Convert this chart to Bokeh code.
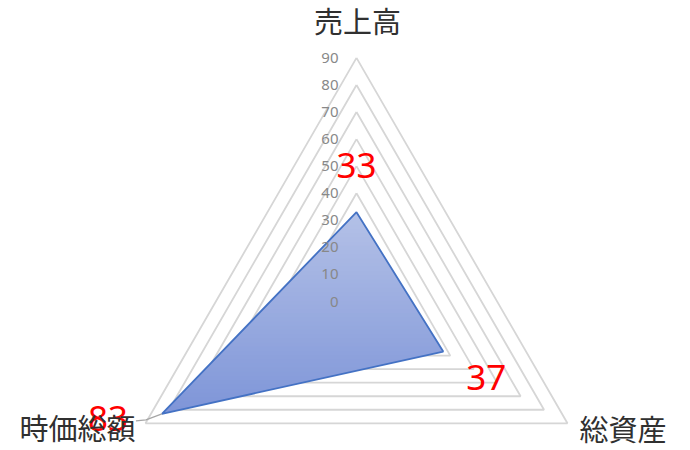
import math
from bokeh.plotting import figure
from bokeh.models import ColumnDataSource
from bokeh.core.properties import value
from bokeh.embed import file_html
from bokeh.resources import INLINE

# ---- data ----
categories = ["売上高", "総資産", "時価総額"]
values = [33, 37, 83]
tick_values = [0, 10, 20, 30, 40, 50, 60, 70, 80, 90]
tick_labels = ["0", "10", "20", "30", "40", "50", "60", "70", "80", "90"]
r_max = 90

# ---- geometry helpers ----
angles = [math.radians(90 - 120 * i) for i in range(len(categories))]

def pt(r, a):
    return r * math.cos(a), r * math.sin(a)

scale = 243.6 / r_max  # px per unit
W, H = 690, 450
cx, cy = 356, 301
p = figure(width=W, height=H, output_backend="svg", toolbar_location=None,
           x_range=(-cx / scale, (W - cx) / scale),
           y_range=(-(H - cy) / scale, cy / scale),
           x_axis_type=None, y_axis_type=None, min_border=0,
           background_fill_color="white", border_fill_color="white")
p.outline_line_color = None
p.grid.visible = False

# ---- gridlines (triangles) ----
gx, gy = [], []
for t in tick_values[1:]:
    xs = [pt(t, a)[0] for a in angles] + [pt(t, angles[0])[0]]
    ys = [pt(t, a)[1] for a in angles] + [pt(t, angles[0])[1]]
    gx.append(xs)
    gy.append(ys)
p.multi_line(gx, gy, line_color="#D6D6D6", line_width=1.8)

# ---- series polygon with vertical gradient (horizontal bands) ----
poly = [pt(v, a) for v, a in zip(values, angles)]
ymin = min(q[1] for q in poly)
ymax = max(q[1] for q in poly)

def clip(polyg, y0, keep_above):
    out = []
    n = len(polyg)
    for i in range(n):
        P = polyg[i]
        Q = polyg[(i + 1) % n]
        pin = (P[1] >= y0) if keep_above else (P[1] <= y0)
        qin = (Q[1] >= y0) if keep_above else (Q[1] <= y0)
        if pin:
            out.append(P)
        if pin != qin:
            t = (y0 - P[1]) / (Q[1] - P[1])
            out.append((P[0] + t * (Q[0] - P[0]), y0))
    return out

top_rgb = (180, 193, 231)
bot_rgb = (126, 149, 216)
N = 48
bxs, bys, bcols = [], [], []
for i in range(N):
    y0 = ymin + (ymax - ymin) * i / N
    y1 = ymin + (ymax - ymin) * (i + 1.6) / N
    band = clip(clip(poly, y0, True), y1, False)
    if len(band) < 3:
        continue
    f = (i + 0.5) / N
    c = tuple(int(round(bot_rgb[k] + (top_rgb[k] - bot_rgb[k]) * f)) for k in range(3))
    bxs.append([q[0] for q in band])
    bys.append([q[1] for q in band])
    bcols.append("#%02x%02x%02x" % c)
p.patches(bxs, bys, fill_color=bcols, line_color=None)
p.patch([q[0] for q in poly], [q[1] for q in poly], fill_color=None,
        line_color="#4472C4", line_width=1.8)

# ---- radial axis labels ----
p.text(x=[0] * len(tick_values), y=tick_values, text=tick_labels,
       x_offset=-18, text_align="right", text_baseline="middle",
       text_font=value("Noto Sans"), text_font_size="15px", text_color="#888888")

# ---- leader line for 時価総額 label ----
lx, ly = poly[2]
p.line([lx - 26 / scale, lx - 16 / scale, lx], [ly - 7 / scale, ly - 6 / scale, ly],
       line_color="#A6A6A6", line_width=1.3)

# ---- data labels ----
lab_dx = [0, 43, -54]
lab_dy = [-47, 26, 5]
src = ColumnDataSource(dict(x=[q[0] for q in poly], y=[q[1] for q in poly],
                            t=[str(v) for v in values], dx=lab_dx, dy=lab_dy))
p.text(x="x", y="y", text="t", x_offset="dx", y_offset="dy", source=src,
       text_align="center", text_baseline="middle",
       text_font=value("Noto Sans"), text_font_size="35px", text_color="#FF0000")

# ---- category labels ----
vx = [pt(r_max, a)[0] for a in angles]
vy = [pt(r_max, a)[1] for a in angles]
cat_align = ["center", "left", "right"]
cat_dx = [1, 12, -10]
cat_dy = [-38, 5, 4]
for i, c in enumerate(categories):
    p.text(x=[vx[i]], y=[vy[i]], text=[c], x_offset=cat_dx[i], y_offset=cat_dy[i],
           text_align=cat_align[i], text_baseline="middle",
           text_font=value("Noto Sans CJK JP"), text_font_size="29px",
           text_font_style="normal", text_color="#303030")

open("out.html", "w").write(file_html(p, INLINE))
